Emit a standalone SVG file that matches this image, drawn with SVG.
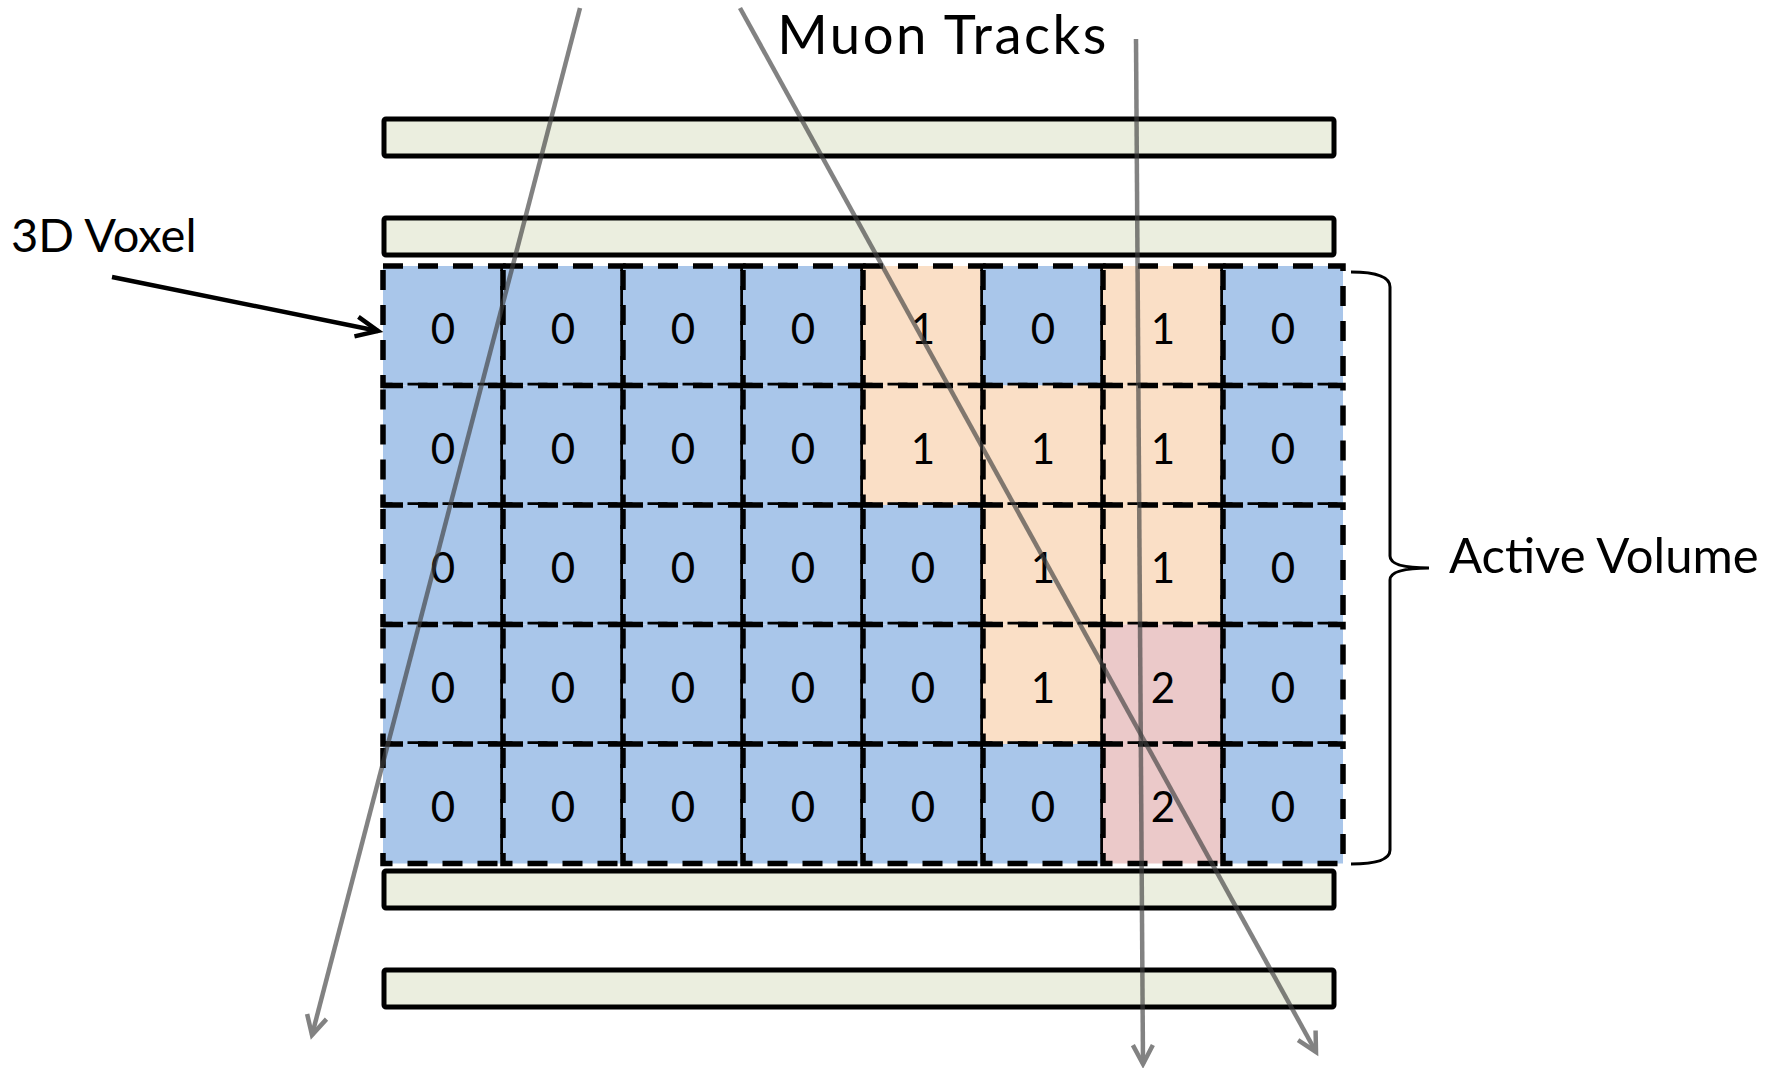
<svg xmlns="http://www.w3.org/2000/svg" width="1779" height="1068" viewBox="0 0 1779 1068">
  <style>
    .slab { fill: #EBEEDF; stroke: #000; stroke-width: 5; }
    .cell { stroke: #000; stroke-width: 5.5; stroke-dasharray: 20 15; }
    .c0 { fill: #A9C6EA; }
    .c1 { fill: #FADFC6; }
    .c2 { fill: #EBC9C9; }
    .num { font-family: Lato, "Liberation Sans", sans-serif; font-size: 42px; fill: #000; text-anchor: middle; }
    .label { font-family: Lato, "Liberation Sans", sans-serif; fill: #000; }
    .track { fill: none; stroke: #404040; stroke-width: 4.5; opacity: 0.65; marker-end: url(#grayHead); }
    .pointer { fill: none; stroke: #000; stroke-width: 4.5; marker-end: url(#blackHead); }
    .brace { fill: none; stroke: #000; stroke-width: 3; }
  </style>
  <defs>
    <marker id="grayHead" markerUnits="userSpaceOnUse" markerWidth="40" markerHeight="40" viewBox="-30 -20 40 40" refX="0" refY="0" orient="auto" overflow="visible">
      <path d="M-19,-10 L0,0 L-19,10" fill="none" stroke="#404040" stroke-width="4.5"/>
    </marker>
    <marker id="blackHead" markerUnits="userSpaceOnUse" markerWidth="40" markerHeight="40" viewBox="-30 -20 40 40" refX="0" refY="0" orient="auto" overflow="visible">
      <path d="M-22,-10 L0,0 L-22,10" fill="none" stroke="#000" stroke-width="4.5"/>
    </marker>
  </defs>

  <rect width="1779" height="1068" fill="#fff"/>

  <!-- detector planes -->
  <g id="plane-1"><rect class="slab" x="384" y="119" width="950" height="37" rx="2"/></g>
  <g id="plane-2"><rect class="slab" x="384" y="218" width="950" height="37" rx="2"/></g>
  <g id="plane-3"><rect class="slab" x="384" y="871" width="950" height="37" rx="2"/></g>
  <g id="plane-4"><rect class="slab" x="384" y="970" width="950" height="37" rx="2"/></g>

  <!-- voxel grid: hit counts per voxel -->
  <g id="voxel-grid">
    <!-- row 1 -->
    <g id="v-1-1"><rect class="cell c0" x="383" y="266" width="120" height="119.5"/><text class="num" x="443" y="344">0</text></g>
    <g id="v-1-2"><rect class="cell c0" x="503" y="266" width="120" height="119.5"/><text class="num" x="563" y="344">0</text></g>
    <g id="v-1-3"><rect class="cell c0" x="623" y="266" width="120" height="119.5"/><text class="num" x="683" y="344">0</text></g>
    <g id="v-1-4"><rect class="cell c0" x="743" y="266" width="120" height="119.5"/><text class="num" x="803" y="344">0</text></g>
    <g id="v-1-5"><rect class="cell c1" x="863" y="266" width="120" height="119.5"/><text class="num" x="923" y="344">1</text></g>
    <g id="v-1-6"><rect class="cell c0" x="983" y="266" width="120" height="119.5"/><text class="num" x="1043" y="344">0</text></g>
    <g id="v-1-7"><rect class="cell c1" x="1103" y="266" width="120" height="119.5"/><text class="num" x="1163" y="344">1</text></g>
    <g id="v-1-8"><rect class="cell c0" x="1223" y="266" width="120" height="119.5"/><text class="num" x="1283" y="344">0</text></g>
    <!-- row 2 -->
    <g id="v-2-1"><rect class="cell c0" x="383" y="385.5" width="120" height="119.5"/><text class="num" x="443" y="463.5">0</text></g>
    <g id="v-2-2"><rect class="cell c0" x="503" y="385.5" width="120" height="119.5"/><text class="num" x="563" y="463.5">0</text></g>
    <g id="v-2-3"><rect class="cell c0" x="623" y="385.5" width="120" height="119.5"/><text class="num" x="683" y="463.5">0</text></g>
    <g id="v-2-4"><rect class="cell c0" x="743" y="385.5" width="120" height="119.5"/><text class="num" x="803" y="463.5">0</text></g>
    <g id="v-2-5"><rect class="cell c1" x="863" y="385.5" width="120" height="119.5"/><text class="num" x="923" y="463.5">1</text></g>
    <g id="v-2-6"><rect class="cell c1" x="983" y="385.5" width="120" height="119.5"/><text class="num" x="1043" y="463.5">1</text></g>
    <g id="v-2-7"><rect class="cell c1" x="1103" y="385.5" width="120" height="119.5"/><text class="num" x="1163" y="463.5">1</text></g>
    <g id="v-2-8"><rect class="cell c0" x="1223" y="385.5" width="120" height="119.5"/><text class="num" x="1283" y="463.5">0</text></g>
    <!-- row 3 -->
    <g id="v-3-1"><rect class="cell c0" x="383" y="505" width="120" height="119.5"/><text class="num" x="443" y="583">0</text></g>
    <g id="v-3-2"><rect class="cell c0" x="503" y="505" width="120" height="119.5"/><text class="num" x="563" y="583">0</text></g>
    <g id="v-3-3"><rect class="cell c0" x="623" y="505" width="120" height="119.5"/><text class="num" x="683" y="583">0</text></g>
    <g id="v-3-4"><rect class="cell c0" x="743" y="505" width="120" height="119.5"/><text class="num" x="803" y="583">0</text></g>
    <g id="v-3-5"><rect class="cell c0" x="863" y="505" width="120" height="119.5"/><text class="num" x="923" y="583">0</text></g>
    <g id="v-3-6"><rect class="cell c1" x="983" y="505" width="120" height="119.5"/><text class="num" x="1043" y="583">1</text></g>
    <g id="v-3-7"><rect class="cell c1" x="1103" y="505" width="120" height="119.5"/><text class="num" x="1163" y="583">1</text></g>
    <g id="v-3-8"><rect class="cell c0" x="1223" y="505" width="120" height="119.5"/><text class="num" x="1283" y="583">0</text></g>
    <!-- row 4 -->
    <g id="v-4-1"><rect class="cell c0" x="383" y="624.5" width="120" height="119.5"/><text class="num" x="443" y="702.5">0</text></g>
    <g id="v-4-2"><rect class="cell c0" x="503" y="624.5" width="120" height="119.5"/><text class="num" x="563" y="702.5">0</text></g>
    <g id="v-4-3"><rect class="cell c0" x="623" y="624.5" width="120" height="119.5"/><text class="num" x="683" y="702.5">0</text></g>
    <g id="v-4-4"><rect class="cell c0" x="743" y="624.5" width="120" height="119.5"/><text class="num" x="803" y="702.5">0</text></g>
    <g id="v-4-5"><rect class="cell c0" x="863" y="624.5" width="120" height="119.5"/><text class="num" x="923" y="702.5">0</text></g>
    <g id="v-4-6"><rect class="cell c1" x="983" y="624.5" width="120" height="119.5"/><text class="num" x="1043" y="702.5">1</text></g>
    <g id="v-4-7"><rect class="cell c2" x="1103" y="624.5" width="120" height="119.5"/><text class="num" x="1163" y="702.5">2</text></g>
    <g id="v-4-8"><rect class="cell c0" x="1223" y="624.5" width="120" height="119.5"/><text class="num" x="1283" y="702.5">0</text></g>
    <!-- row 5 -->
    <g id="v-5-1"><rect class="cell c0" x="383" y="744" width="120" height="119.5"/><text class="num" x="443" y="822">0</text></g>
    <g id="v-5-2"><rect class="cell c0" x="503" y="744" width="120" height="119.5"/><text class="num" x="563" y="822">0</text></g>
    <g id="v-5-3"><rect class="cell c0" x="623" y="744" width="120" height="119.5"/><text class="num" x="683" y="822">0</text></g>
    <g id="v-5-4"><rect class="cell c0" x="743" y="744" width="120" height="119.5"/><text class="num" x="803" y="822">0</text></g>
    <g id="v-5-5"><rect class="cell c0" x="863" y="744" width="120" height="119.5"/><text class="num" x="923" y="822">0</text></g>
    <g id="v-5-6"><rect class="cell c0" x="983" y="744" width="120" height="119.5"/><text class="num" x="1043" y="822">0</text></g>
    <g id="v-5-7"><rect class="cell c2" x="1103" y="744" width="120" height="119.5"/><text class="num" x="1163" y="822">2</text></g>
    <g id="v-5-8"><rect class="cell c0" x="1223" y="744" width="120" height="119.5"/><text class="num" x="1283" y="822">0</text></g>
  </g>

  <!-- muon tracks and pointer -->
  <g id="connectors">
    <path class="track" d="M580,8 L312,1035"/>
    <path class="track" d="M740,8 L1316,1052"/>
    <path class="track" d="M1136,39 L1143,1064"/>
    <path class="pointer" d="M112,277 L378,331"/>
  </g>

  <!-- brace marking the active volume -->
  <g id="active-volume-brace">
    <path class="brace" d="M1351,272 Q1390,272 1390,287 L1390,556 Q1390,568 1429,568 Q1390,568 1390,580 L1390,850 Q1390,864 1351,864"/>
  </g>

  <!-- labels -->
  <g id="label-muon-tracks"><text class="label" x="943" y="54" font-size="54.5" letter-spacing="2.5" text-anchor="middle">Muon Tracks</text></g>
  <g id="label-3d-voxel"><text class="label" x="11" y="252" font-size="47">3D Voxel</text></g>
  <g id="label-active-volume"><text class="label" x="1449" y="573" font-size="49">Active Volume</text></g>
</svg>
